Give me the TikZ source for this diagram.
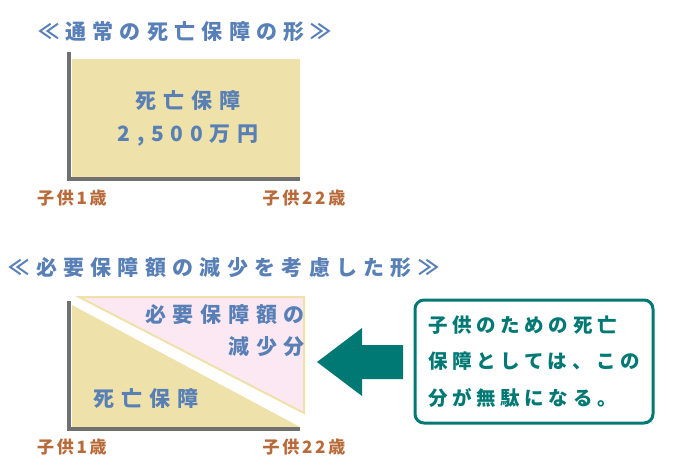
\documentclass[tikz,border=0pt]{standalone}
\usepackage{fontspec}
\usepackage{xcolor}
\usepackage{tikz}
\usetikzlibrary{positioning}

\newfontfamily\jpfont{Noto Sans CJK JP}

\definecolor{titleblue}{RGB}{88,128,182}
\definecolor{boxyellow}{RGB}{238,226,170}
\definecolor{cutpink}{RGB}{252,232,243}
\definecolor{axisgray}{RGB}{112,112,112}
\definecolor{agebrown}{RGB}{184,106,58}
\definecolor{noteteal}{RGB}{0,121,116}

\begin{document}
\begin{tikzpicture}[x=1pt, y=-1pt,
    titletext/.style={text=titleblue, inner sep=0pt,
        font=\jpfont\bfseries\addfontfeature{LetterSpace=30}\fontsize{21}{24}\selectfont},
    covertext/.style={text=titleblue, inner sep=0pt,
        font=\jpfont\bfseries\addfontfeature{LetterSpace=32}\fontsize{21}{24}\selectfont},
    agetext/.style={text=agebrown, inner sep=0pt,
        font=\jpfont\bfseries\addfontfeature{LetterSpace=16}\fontsize{17}{20}\selectfont},
    axisline/.style={axisgray, line width=4pt},
    notebox/.style={draw=noteteal, line width=3pt, rounded corners=9pt,
        text=noteteal, align=left, inner sep=0pt,
        minimum width=238pt, minimum height=123pt,
        font=\jpfont\bfseries\addfontfeature{LetterSpace=24}\fontsize{19.5}{36.5}\selectfont}]
    \useasboundingbox (0,0) rectangle (700,468);

    % Upper chart: usual death cover
    \node[titletext] (title1) at (185,32) {≪通常の死亡保障の形≫};
    \fill[boxyellow] (72,59) rectangle (300,178);
    \draw[axisline] (69,52) -- (69,179) -- (300,179);
    \node[covertext] (cover1) at (188,101) {死亡保障};
    \node[covertext] (amount1) at (188,136) {2,500万円};
    \node[agetext] (start1) at (72,198) {子供1歳};
    \node[agetext] (end1) at (304,198) {子供22歳};

    % Lower chart: cover that shrinks with need
    \node[titletext] (title2) at (224,268) {≪必要保障額の減少を考慮した形≫};
    \fill[boxyellow] (72,305) -- (72,427) -- (300,427) -- cycle;
    \filldraw[boxyellow, line width=2pt, fill=cutpink] (79,297) -- (304,297) -- (304,413) -- cycle;
    \draw[axisline] (69,301) -- (69,429) -- (300,429);
    \node[covertext, anchor=east] (cut1) at (305,315) {必要保障額の};
    \node[covertext, anchor=east] (cut2) at (305,347) {減少分};
    \node[covertext] (cover2) at (146,399) {死亡保障};
    \node[agetext] (start2) at (72,447) {子供1歳};
    \node[agetext] (end2) at (304,447) {子供22歳};

    % Note and pointer
    \node[notebox] (note) at (534,361.5) {子供のための死亡\\保障としては、この\\分が無駄になる。};
    \coordinate (tip) at (317,362);
    \fill[noteteal] (tip) -- (362,328) -- (362,345) -- (403,345)
        -- (403,379) -- (362,379) -- (362,396) -- cycle;
\end{tikzpicture}
\end{document}
